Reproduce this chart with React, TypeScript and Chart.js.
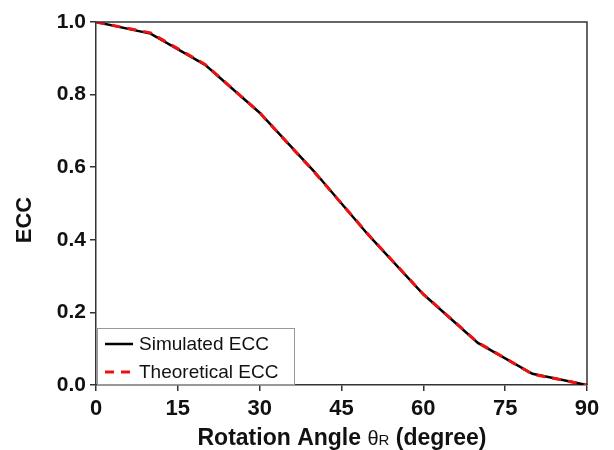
import React, { useEffect, useRef } from "react";
import { Chart, registerables } from "chart.js";

Chart.register(...registerables);

const angles = [0, 10, 20, 30, 40, 50, 60, 70, 80, 90];
const simulatedECC = [1.0, 0.968, 0.882, 0.75, 0.588, 0.412, 0.25, 0.116, 0.031, 0.0];
const theoreticalECC = [1.0, 0.97, 0.883, 0.75, 0.587, 0.413, 0.25, 0.117, 0.03, 0.0];
const xTicks = [0, 15, 30, 45, 60, 75, 90];
const seriesLabels = ["Simulated ECC", "Theoretical ECC"];
const yTitle = "ECC";

const FONT = "'Liberation Sans', Arial, sans-serif";

const framePlugin = {
  id: "frame",
  afterDatasetsDraw(chart: any) {
    const { ctx, chartArea } = chart;
    ctx.save();
    ctx.strokeStyle = "#333";
    ctx.lineWidth = 1.5;
    ctx.beginPath();
    ctx.moveTo(chartArea.left, chartArea.top);
    ctx.lineTo(chartArea.right, chartArea.top);
    ctx.lineTo(chartArea.right, chartArea.bottom);
    ctx.stroke();
    ctx.restore();
  },
  afterDraw(chart: any) {
    const { ctx, chartArea } = chart;
    ctx.save();
    // legend box
    const bx = chartArea.left + 1;
    const by = chartArea.bottom - 57;
    const bw = 197;
    const bh = 56;
    ctx.fillStyle = "#fff";
    ctx.fillRect(bx, by, bw, bh);
    ctx.strokeStyle = "#999";
    ctx.lineWidth = 1;
    ctx.strokeRect(bx + 0.5, by + 0.5, bw, bh);
    const ds = chart.data.datasets;
    ctx.font = `19px ${FONT}`;
    ctx.textBaseline = "middle";
    ctx.textAlign = "left";
    ds.forEach((d: any, i: number) => {
      const y = by + 16 + i * 28;
      ctx.beginPath();
      ctx.strokeStyle = d.borderColor;
      ctx.lineWidth = d.borderWidth;
      ctx.setLineDash(d.borderDash || []);
      ctx.moveTo(bx + 8, y);
      ctx.lineTo(bx + 36, y);
      ctx.stroke();
      ctx.setLineDash([]);
      ctx.fillStyle = "#111";
      ctx.fillText(d.label, bx + 42, y + 1);
    });
    // y axis title
    ctx.save();
    ctx.translate(25, 220);
    ctx.rotate(-Math.PI / 2);
    ctx.font = `bold 22px ${FONT}`;
    ctx.textAlign = "center";
    ctx.textBaseline = "middle";
    ctx.fillStyle = "#111";
    ctx.fillText(yTitle, 0, 0);
    ctx.restore();
    // x axis title with θR
    const cx = 342;
    const ty = 445;
    const p1 = "Rotation Angle ";
    const p2 = "θ";
    const p3 = "R";
    const p4 = " (degree)";
    const bold = `bold 23px ${FONT}`;
    const small = `20px ${FONT}`;
    const smaller = `15px ${FONT}`;
    ctx.font = bold;
    const w1 = ctx.measureText(p1).width;
    const w4 = ctx.measureText(p4).width;
    ctx.font = small;
    const w2 = ctx.measureText(p2).width;
    ctx.font = smaller;
    const w3 = ctx.measureText(p3).width;
    let x = cx - (w1 + w2 + w3 + w4) / 2;
    ctx.fillStyle = "#111";
    ctx.textAlign = "left";
    ctx.textBaseline = "alphabetic";
    ctx.font = bold;
    ctx.fillText(p1, x, ty);
    x += w1;
    ctx.font = small;
    ctx.fillText(p2, x, ty);
    x += w2;
    ctx.font = smaller;
    ctx.fillText(p3, x, ty);
    x += w3;
    ctx.font = bold;
    ctx.fillText(p4, x, ty);
    ctx.restore();
  },
};

export default function App() {
  const ref = useRef<HTMLCanvasElement>(null);
  useEffect(() => {
    document.body.style.margin = "0";
    const chart = new Chart(ref.current!, {
      type: "line",
      data: {
        datasets: [
          {
            label: seriesLabels[0],
            data: angles.map((a, i) => ({ x: a, y: simulatedECC[i] })),
            borderColor: "#000",
            borderWidth: 2.5,
            pointRadius: 0,
            tension: 0,
            order: 2,
          },
          {
            label: seriesLabels[1],
            data: angles.map((a, i) => ({ x: a, y: theoreticalECC[i] })),
            borderColor: "#ee1111",
            borderWidth: 3,
            borderDash: [9, 7],
            pointRadius: 0,
            tension: 0,
            order: 1,
          },
        ],
      },
      options: {
        animation: false,
        responsive: false,
        layout: { padding: { top: 22, right: 27, left: 0, bottom: 0 } },
        plugins: { legend: { display: false }, tooltip: { enabled: false } },
        scales: {
          x: {
            type: "linear",
            min: 0,
            max: 90,
            afterBuildTicks: (axis: any) => {
              axis.ticks = xTicks.map((v) => ({ value: v }));
            },
            afterFit: (axis: any) => {
              axis.height = 65;
            },
            border: { color: "#333", width: 1.5 },
            grid: { drawOnChartArea: false, tickLength: 6, color: "#333", lineWidth: 1.5 },
            ticks: {
              color: "#111",
              font: { family: FONT, size: 22, weight: "bold" },
              padding: 5,
              maxRotation: 0,
            },
            title: { display: false },
          },
          y: {
            min: 0,
            max: 1,
            afterFit: (axis: any) => {
              axis.width = 96;
            },
            border: { color: "#333", width: 1.5 },
            grid: { drawOnChartArea: false, tickLength: 6, color: "#333", lineWidth: 1.5 },
            ticks: {
              stepSize: 0.2,
              color: "#111",
              font: { family: FONT, size: 21, weight: "bold" },
              padding: 4,
              callback: (v: any) => Number(v).toFixed(1),
            },
            title: { display: false },
          },
        },
      },
      plugins: [framePlugin],
    });
    return () => chart.destroy();
  }, []);
  return <canvas ref={ref} width={614} height={450} style={{ display: "block" }} />;
}
